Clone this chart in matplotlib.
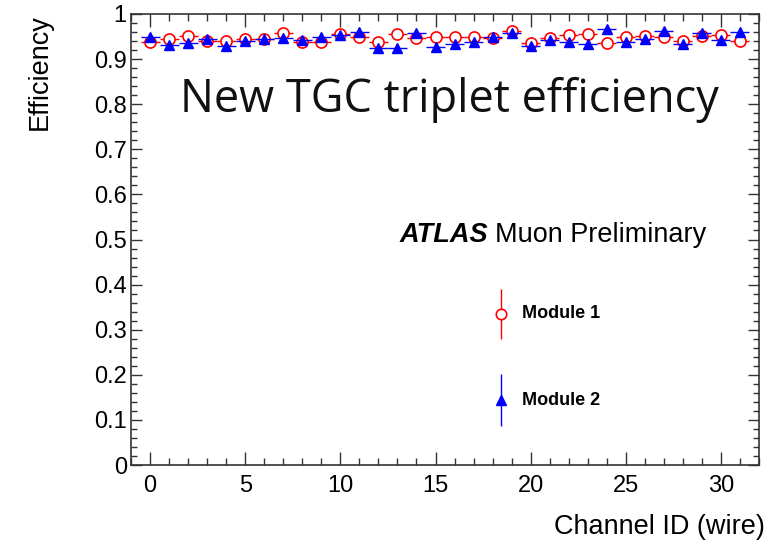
import matplotlib
matplotlib.use("Agg")
import matplotlib.pyplot as plt
from matplotlib.ticker import MultipleLocator, FixedLocator
import numpy as np

channels = list(range(32))
module1 = [0.939, 0.944, 0.952, 0.940, 0.940, 0.945, 0.945, 0.957, 0.938, 0.938,
           0.955, 0.950, 0.939, 0.955, 0.947, 0.948, 0.948, 0.948, 0.946, 0.963,
           0.935, 0.946, 0.953, 0.956, 0.935, 0.948, 0.952, 0.948, 0.941, 0.951,
           0.953, 0.941]
module2 = [0.948, 0.931, 0.936, 0.944, 0.928, 0.940, 0.945, 0.946, 0.943, 0.950,
           0.953, 0.959, 0.924, 0.925, 0.957, 0.926, 0.934, 0.939, 0.950, 0.958,
           0.930, 0.942, 0.939, 0.933, 0.967, 0.939, 0.945, 0.962, 0.933, 0.958,
           0.943, 0.959]
yerr1 = [0.004] * 32
yerr2 = [0.004] * 32
xerr = [0.5] * 32

yticks = [0, 0.1, 0.2, 0.3, 0.4, 0.5, 0.6, 0.7, 0.8, 0.9, 1.0]
ytick_labels = ["0", "0.1", "0.2", "0.3", "0.4", "0.5", "0.6", "0.7", "0.8", "0.9", "1"]
xticks = [0, 5, 10, 15, 20, 25, 30]

RED = "#ff0000"
BLUE = "#0000ff"

plt.rcParams['font.family'] = ['Liberation Sans', 'DejaVu Sans']

fig = plt.figure(figsize=(7.69, 5.49), dpi=100)
ax = fig.add_axes([0.1704, 0.153, 0.987 - 0.1704, 0.9745 - 0.153])

x = np.array(channels)
ax.errorbar(x, module1, xerr=xerr, yerr=yerr1, fmt='o', color=RED, ecolor=RED,
            mfc='white', mec=RED, ms=8, mew=1.2, elinewidth=1.0, capsize=0, zorder=3)
ax.errorbar(x, module2, xerr=xerr, yerr=yerr2, fmt='^', color=BLUE, ecolor=BLUE,
            mfc=BLUE, mec=BLUE, ms=7.5, elinewidth=1.0, capsize=0, zorder=4)

ax.set_xlim(-1, 32)
ax.set_ylim(0, 1)
ax.yaxis.set_major_locator(FixedLocator(yticks))
ax.set_yticklabels(ytick_labels)
ax.yaxis.set_minor_locator(MultipleLocator(0.02))
ax.xaxis.set_major_locator(FixedLocator(xticks))
ax.xaxis.set_minor_locator(MultipleLocator(1))

ax.tick_params(which='both', direction='in', top=True, right=True, width=1.0, color='#333333')
ax.tick_params(which='major', labelsize=17)
ax.tick_params(axis='x', which='major', length=9.4, pad=7)
ax.tick_params(axis='x', which='minor', length=4.7)
ax.tick_params(axis='y', which='major', length=8, pad=3)
ax.tick_params(axis='y', which='minor', length=4)
for s in ax.spines.values():
    s.set_linewidth(1.2)
    s.set_color('#333333')

fig.text(0.995, 0.04, "Channel ID (wire)", ha='right', va='center', fontsize=19.5)
fig.text(0.052, 0.974, "Efficiency", ha='center', va='top', rotation=90, fontsize=19.5)

fig.text(400 / 769, 1 - 235 / 549, "ATLAS", ha='left', va='center', fontsize=19.5,
         fontweight='bold', fontstyle='italic')
fig.text(495 / 769, 1 - 235 / 549, "Muon Preliminary", ha='left', va='center', fontsize=19.5)

fig.text(180 / 769, 1 - 100 / 549, "New TGC triplet efficiency", ha='left', va='center',
         fontsize=32.5, family=['Open Sans', 'DejaVu Sans'], color='#111111')

# legend
lx = 18.43
ax.errorbar([lx], [0.335], yerr=[0.055], fmt='o', color=RED, mfc='white', mec=RED,
            ms=7.5, mew=1.2, elinewidth=1.0, capsize=0, clip_on=False)
ax.errorbar([lx], [0.144], yerr=[0.057], fmt='^', color=BLUE, mfc=BLUE, mec=BLUE,
            ms=6.5, elinewidth=1.0, capsize=0, clip_on=False)
ax.text(19.55, 0.335, "Module 1", ha='left', va='center', fontsize=13, fontweight='bold')
ax.text(19.55, 0.144, "Module 2", ha='left', va='center', fontsize=13, fontweight='bold')

fig.savefig("out.png", dpi=100)
